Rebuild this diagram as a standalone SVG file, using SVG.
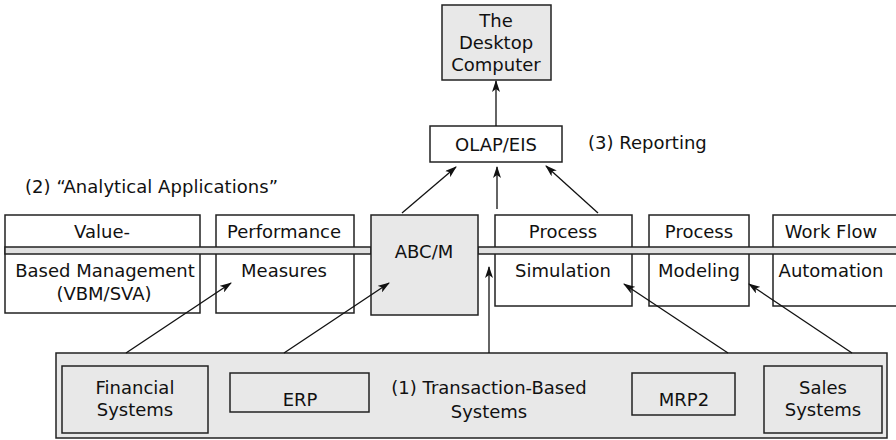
<svg xmlns="http://www.w3.org/2000/svg" width="896" height="440" viewBox="0 0 896 440">
<defs>
<style>
.box{fill:#fff;stroke:#222;stroke-width:1.5}
.gray{fill:#e8e8e8;stroke:#222;stroke-width:1.5}
.bar{fill:#e0e0e0;stroke:#222;stroke-width:1.5}
text{font-family:"DejaVu Sans","Open Sans",sans-serif;font-size:18px;fill:#111}
.c{text-anchor:middle}
.arr{stroke:#111;stroke-width:1.3;fill:none;marker-end:url(#ah)}
</style>
<marker id="ah" viewBox="0 0 12 8" refX="11" refY="4" markerWidth="12" markerHeight="8" markerUnits="userSpaceOnUse" orient="auto">
<path d="M0,0 L12,4 L0,8 L3,4 Z" fill="#111"/>
</marker>
</defs>
<g id="desktop">
<rect class="gray" x="442" y="5" width="109" height="75"/>
<text class="c" x="496" y="27">The</text>
<text class="c" x="496" y="49">Desktop</text>
<text class="c" x="496" y="71">Computer</text>
</g>
<g id="olap">
<rect class="box" x="430" y="126" width="132" height="36"/>
<text class="c" x="496" y="151">OLAP/EIS</text>
</g>
<text x="588" y="149">(3) Reporting</text>
<text x="25" y="193" textLength="253">(2) “Analytical Applications”</text>
<g id="vbm">
<rect class="box" x="5" y="215" width="195" height="98"/>
<text class="c" x="102" y="238">Value-</text>
<text class="c" x="105" y="277">Based Management</text>
<text class="c" x="104" y="300">(VBM/SVA)</text>
</g>
<g id="performance">
<rect class="box" x="216" y="215" width="138" height="98"/>
<text class="c" x="284" y="238">Performance</text>
<text class="c" x="284" y="277">Measures</text>
</g>
<g id="simulation">
<rect class="box" x="495" y="215" width="137" height="91"/>
<text class="c" x="563" y="238">Process</text>
<text class="c" x="563" y="277">Simulation</text>
</g>
<g id="modeling">
<rect class="box" x="649" y="215" width="100" height="91"/>
<text class="c" x="699" y="238">Process</text>
<text class="c" x="699" y="277">Modeling</text>
</g>
<g id="workflow">
<rect class="box" x="773" y="215" width="130" height="91"/>
<text class="c" x="831" y="238">Work Flow</text>
<text class="c" x="831" y="277">Automation</text>
</g>
<g id="bars">
<rect class="bar" x="5" y="247" width="366" height="7"/>
<rect class="bar" x="478" y="247" width="425" height="7"/>
</g>
<g id="abcm">
<rect class="gray" x="371" y="215" width="107" height="100"/>
<text class="c" x="424" y="258">ABC/M</text>
</g>
<g id="transaction">
<rect class="gray" x="56" y="353" width="831" height="85"/>
<text class="c" x="489" y="394">(1) Transaction-Based</text>
<text class="c" x="489" y="418">Systems</text>
</g>
<g id="financial">
<rect class="gray" x="62" y="366" width="146" height="67"/>
<text class="c" x="135" y="394">Financial</text>
<text class="c" x="135" y="416">Systems</text>
</g>
<g id="erp">
<rect class="gray" x="230" y="373" width="139" height="39"/>
<text class="c" x="300" y="406">ERP</text>
</g>
<g id="mrp2">
<rect class="gray" x="632" y="373" width="103" height="42"/>
<text class="c" x="684" y="406">MRP2</text>
</g>
<g id="sales">
<rect class="gray" x="764" y="366" width="118" height="67"/>
<text class="c" x="823" y="394">Sales</text>
<text class="c" x="823" y="416">Systems</text>
</g>
<g id="connectors">
<line class="arr" x1="496" y1="126" x2="496" y2="81"/>
<line class="arr" x1="402" y1="213" x2="456" y2="167"/>
<line class="arr" x1="497" y1="209" x2="497" y2="167"/>
<line class="arr" x1="598" y1="213" x2="546" y2="166"/>
<line class="arr" x1="126" y1="353" x2="231" y2="283"/>
<line class="arr" x1="284" y1="353" x2="389" y2="283"/>
<line class="arr" x1="489" y1="353" x2="489" y2="267"/>
<line class="arr" x1="728" y1="353" x2="624" y2="284"/>
<line class="arr" x1="852" y1="353" x2="749" y2="284"/>
</g>
</svg>
